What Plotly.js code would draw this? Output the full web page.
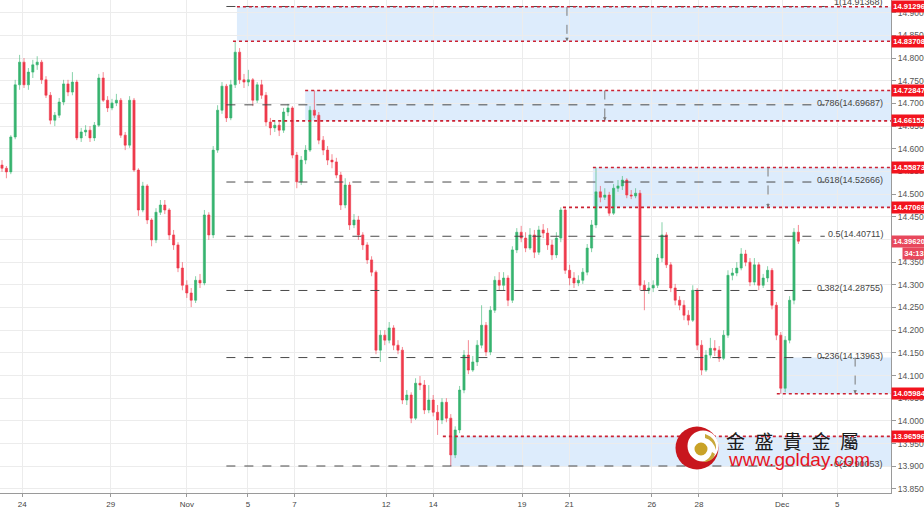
<!DOCTYPE html>
<html><head><meta charset="utf-8">
<script src="https://cdn.plot.ly/plotly-3.0.1.min.js"></script>
<style>html,body{margin:0;padding:0;background:#fff;overflow:hidden}#chart{width:924px;height:510px;}</style>
</head><body><div id="chart"></div>
<script>
// ---- candle data (4H bars) ----
const openP = [14.564,14.557,14.549,14.626,14.741,14.791,14.741,14.769,14.785,14.791,
14.752,14.718,14.663,14.674,14.703,14.743,14.725,14.747,14.624,14.637,
14.641,14.624,14.652,14.756,14.707,14.690,14.701,14.707,14.630,14.608,
14.707,14.553,14.465,14.518,14.443,14.399,14.460,14.476,14.465,14.410,
14.388,14.337,14.299,14.282,14.266,14.310,14.304,14.454,14.410,14.597,
14.685,14.738,14.668,14.741,14.813,14.752,14.747,14.752,14.707,14.741,
14.718,14.659,14.646,14.652,14.641,14.681,14.690,14.586,14.527,14.575,
14.597,14.685,14.674,14.619,14.597,14.575,14.571,14.542,14.476,14.520,
14.432,14.443,14.410,14.388,14.355,14.328,14.156,14.189,14.178,14.205,
14.167,14.156,14.046,14.057,14.006,14.083,14.079,14.024,14.046,14.019,
14.002,14.041,14.006,13.925,13.980,14.068,14.145,14.112,14.130,14.167,
14.211,14.152,14.244,14.310,14.299,14.315,14.266,14.377,14.416,14.403,
14.381,14.410,14.372,14.421,14.414,14.388,14.366,14.403,14.465,14.332,
14.315,14.304,14.310,14.328,14.381,14.432,14.505,14.493,14.498,14.458,
14.513,14.518,14.531,14.498,14.496,14.502,14.299,14.288,14.293,14.299,
14.359,14.410,14.344,14.293,14.266,14.255,14.233,14.222,14.288,14.167,
14.112,14.145,14.160,14.156,14.138,14.189,14.321,14.326,14.337,14.368,
14.350,14.306,14.344,14.299,14.315,14.332,14.255,14.189,14.072,14.178,
14.266,14.416];
const highP = [14.575,14.562,14.630,14.752,14.807,14.800,14.778,14.796,14.804,14.796,
14.760,14.725,14.681,14.712,14.752,14.752,14.769,14.752,14.646,14.652,
14.650,14.659,14.765,14.769,14.716,14.710,14.721,14.712,14.637,14.716,
14.712,14.557,14.527,14.522,14.447,14.469,14.487,14.487,14.469,14.421,
14.394,14.350,14.310,14.293,14.319,14.324,14.465,14.460,14.606,14.696,
14.747,14.743,14.752,14.8371,14.822,14.765,14.774,14.756,14.747,14.752,
14.725,14.668,14.663,14.659,14.690,14.699,14.694,14.593,14.584,14.608,
14.694,14.7285,14.681,14.628,14.606,14.588,14.580,14.549,14.535,14.527,
14.456,14.452,14.416,14.394,14.363,14.332,14.200,14.200,14.218,14.211,
14.178,14.163,14.068,14.063,14.094,14.099,14.090,14.079,14.057,14.035,
14.050,14.050,14.015,13.988,14.077,14.156,14.178,14.143,14.178,14.255,
14.218,14.253,14.319,14.328,14.328,14.321,14.385,14.425,14.430,14.416,
14.425,14.421,14.430,14.434,14.425,14.399,14.416,14.4707,14.469,14.344,
14.328,14.321,14.337,14.390,14.443,14.5587,14.518,14.513,14.505,14.522,
14.531,14.540,14.535,14.509,14.513,14.509,14.310,14.306,14.310,14.368,
14.438,14.416,14.350,14.302,14.275,14.266,14.244,14.299,14.293,14.178,
14.156,14.183,14.178,14.165,14.200,14.332,14.337,14.350,14.381,14.377,
14.359,14.359,14.350,14.324,14.341,14.337,14.262,14.196,14.187,14.275,
14.425,14.432];
const lowP = [14.549,14.535,14.544,14.621,14.730,14.734,14.730,14.756,14.774,14.743,
14.712,14.654,14.650,14.668,14.696,14.716,14.718,14.619,14.615,14.628,
14.615,14.617,14.648,14.703,14.681,14.685,14.694,14.624,14.597,14.602,
14.549,14.452,14.460,14.434,14.385,14.392,14.454,14.456,14.399,14.377,
14.328,14.288,14.271,14.251,14.260,14.293,14.299,14.399,14.403,14.591,
14.677,14.659,14.663,14.734,14.743,14.734,14.738,14.694,14.701,14.710,
14.650,14.630,14.637,14.628,14.635,14.672,14.579,14.513,14.520,14.566,
14.593,14.668,14.610,14.586,14.564,14.557,14.535,14.465,14.469,14.421,
14.425,14.399,14.377,14.346,14.319,14.147,14.130,14.167,14.171,14.156,
14.147,14.037,14.035,13.995,14.002,14.068,14.015,14.017,14.010,13.969,
13.993,13.997,13.9005,13.918,13.973,14.061,14.103,14.108,14.121,14.160,
14.143,14.145,14.238,14.288,14.288,14.253,14.260,14.370,14.394,14.372,
14.377,14.359,14.366,14.403,14.377,14.355,14.359,14.394,14.324,14.299,
14.293,14.297,14.302,14.321,14.372,14.425,14.482,14.487,14.452,14.454,
14.505,14.509,14.491,14.489,14.491,14.288,14.244,14.280,14.284,14.293,
14.350,14.337,14.284,14.255,14.244,14.222,14.211,14.218,14.156,14.101,
14.108,14.138,14.143,14.130,14.134,14.183,14.310,14.319,14.332,14.341,
14.297,14.299,14.288,14.293,14.306,14.246,14.178,14.0598,14.063,14.171,
14.257,14.390];
const closeP = [14.557,14.549,14.626,14.741,14.791,14.741,14.769,14.785,14.791,14.752,
14.718,14.663,14.674,14.703,14.743,14.725,14.747,14.624,14.637,14.641,
14.624,14.652,14.756,14.707,14.690,14.701,14.707,14.630,14.608,14.707,
14.553,14.465,14.518,14.443,14.399,14.460,14.476,14.465,14.410,14.388,
14.337,14.299,14.282,14.266,14.310,14.304,14.454,14.410,14.597,14.685,
14.738,14.668,14.741,14.813,14.752,14.747,14.752,14.707,14.741,14.718,
14.659,14.646,14.652,14.641,14.681,14.690,14.586,14.527,14.575,14.597,
14.685,14.674,14.619,14.597,14.575,14.571,14.542,14.476,14.520,14.432,
14.443,14.410,14.388,14.355,14.328,14.156,14.189,14.178,14.205,14.167,
14.156,14.046,14.057,14.006,14.083,14.079,14.024,14.046,14.019,14.002,
14.041,14.006,13.925,13.980,14.068,14.145,14.112,14.130,14.167,14.211,
14.152,14.244,14.310,14.299,14.315,14.266,14.377,14.416,14.403,14.381,
14.410,14.372,14.421,14.414,14.388,14.366,14.403,14.465,14.332,14.315,
14.304,14.310,14.328,14.381,14.432,14.505,14.493,14.498,14.458,14.513,
14.518,14.531,14.498,14.496,14.502,14.299,14.288,14.293,14.299,14.359,
14.410,14.344,14.293,14.266,14.255,14.233,14.222,14.288,14.167,14.112,
14.145,14.160,14.156,14.138,14.189,14.321,14.326,14.337,14.368,14.350,
14.306,14.344,14.299,14.315,14.332,14.255,14.189,14.072,14.178,14.266,
14.416,14.3962];

// ---- time axis labels (bar-index positions) ----
const tickPos  = [4.6, 24.7, 42.0, 55.9, 66.5, 87.3, 98.0, 118.2, 128.9, 147.7, 158.4, 177.3, 189.8];
const tickText = ['24','29','Nov','5','7','12','14','19','21','26','28','Dec','5'];

// ---- Fibonacci retracement ----
const fibRatios = ['1','0.786','0.618','0.5','0.382','0.236','0'];
const fibValues = [14.91368,14.69687,14.52666,14.40711,14.28755,14.13963,13.90053];
const fibStart = 51, fibEnd = 187;

// ---- price range zones ----
const zoneTop    = [14.91296,14.72847,14.55873,14.13963,13.96596];
const zoneBottom = [14.83708,14.66152,14.47069,14.05984,13.90053];
const zoneStart  = [53.4,68.9,134.3,176.8,101.8];
const arrowX      = [128.4,137.0,174.1,193.9];
const arrowTop    = [14.91296,14.72847,14.55873,14.13963];
const arrowBottom = [14.83708,14.66152,14.47069,14.05984];

// ---- red horizontal levels + axis tags ----
const redLevels = [14.91296,14.83708,14.72847,14.66152,14.55873,14.47069,14.05984,13.96596];
const redStart  = [53.4,52.5,68.9,61.4,134.3,127.5,176.1,100.2];
const lastPrice = 14.39620;
const countdown = '34:13';

const xIdx = closeP.map((_, i) => i);
const X_END = 210;

const trace = {
  type: 'candlestick', x: xIdx, open: openP, high: highP, low: lowP, close: closeP,
  increasing: {line: {color: '#36b36f', width: 0.6}, fillcolor: '#36b36f'},
  decreasing: {line: {color: '#ee3a4c', width: 0.6}, fillcolor: '#ee3a4c'},
  whiskerwidth: 0, hoverinfo: 'skip', showlegend: false
};

const shapes = [];
const annotations = [];
const tagFont = {family: 'Liberation Sans, Arial', size: 7.6, color: '#fff', weight: 'bold'};

zoneTop.forEach((t, k) => {
  shapes.push({type: 'rect', xref: 'x', yref: 'y', x0: zoneStart[k], x1: X_END, y0: zoneBottom[k], y1: t,
    fillcolor: 'rgba(150,196,245,0.32)', line: {width: 0}, layer: 'below'});
});
fibValues.forEach((v, k) => {
  shapes.push({type: 'line', xref: 'x', yref: 'y', x0: fibStart, x1: fibEnd, y0: v, y1: v,
    line: {color: '#4a4a4a', width: 1, dash: 'dash'}, layer: 'above'});
  annotations.push({xref: 'paper', yref: 'y', x: 885/891, y: v, xanchor: 'right', yanchor: 'middle',
    yshift: k === 0 ? 4 : 2, text: fibRatios[k] + '(' + v.toFixed(5) + ')', showarrow: false,
    font: {family: 'Liberation Sans, Arial', size: 9, color: '#444'}});
});
redLevels.forEach((v, k) => {
  shapes.push({type: 'line', xref: 'x', yref: 'y', x0: redStart[k], x1: X_END, y0: v, y1: v,
    line: {color: '#cc2233', width: 1.6, dash: 'dot'}, layer: 'above'});
});
arrowX.forEach((ax, k) => {
  shapes.push({type: 'line', xref: 'x', yref: 'y', x0: ax, x1: ax, y0: arrowTop[k], y1: arrowBottom[k],
    line: {color: '#7a7a7a', width: 1, dash: 'dash'}, layer: 'above'});
  annotations.push({xref: 'x', yref: 'y', x: ax, y: arrowBottom[k], ax: 0, ay: -5, text: '',
    showarrow: true, arrowhead: 2, arrowsize: 0.7, arrowwidth: 1, arrowcolor: '#7a7a7a'});
});

// axis price tags
redLevels.forEach(v => {
  annotations.push({xref: 'paper', yref: 'y', x: 1, y: v, xanchor: 'left', yanchor: 'middle', xshift: 0,
    text: v.toFixed(5), showarrow: false, bgcolor: '#f2141e', borderpad: 1.2, font: tagFont});
});
annotations.push({xref: 'paper', yref: 'y', x: 1, y: lastPrice, xanchor: 'left', yanchor: 'middle', xshift: 0,
  text: lastPrice.toFixed(5), showarrow: false, bgcolor: '#e8485c', borderpad: 1.2, font: tagFont});
annotations.push({xref: 'paper', yref: 'y', x: 1, y: lastPrice, xanchor: 'left', yanchor: 'middle', xshift: 11, yshift: -12,
  text: countdown, showarrow: false, bgcolor: '#e8485c', borderpad: 1.2, font: tagFont});

// ---- watermark logo ----
const LX = 697/891, LY = 1 - 448/493;
const circ = (dx, dy, r, col) => ({type: 'circle', xref: 'paper', yref: 'paper', xsizemode: 'pixel', ysizemode: 'pixel',
  xanchor: LX, yanchor: LY, x0: dx - r, x1: dx + r, y0: dy - r, y1: dy + r, fillcolor: col, line: {width: 0}, layer: 'above'});
shapes.push(circ(0, 0, 21.5, '#c8161d'));
shapes.push(circ(6, 2, 15.5, '#ffffff'));
shapes.push({type: 'path', xref: 'paper', yref: 'paper', xsizemode: 'pixel', ysizemode: 'pixel', xanchor: LX, yanchor: LY,
  path: 'M 8 14 Q 20 10 19 -2 Q 16 8 8 10 Z', fillcolor: '#c9a83a', line: {width: 0}, layer: 'above'});
shapes.push({type: 'path', xref: 'paper', yref: 'paper', xsizemode: 'pixel', ysizemode: 'pixel', xanchor: LX, yanchor: LY,
  path: 'M 18 -6 Q 16 -14 6 -14 Q 14 -10 15 -4 Z', fillcolor: '#c9a83a', line: {width: 0}, layer: 'above'});
shapes.push(circ(4, -1, 6.5, '#c9a227'));
annotations.push({xref: 'paper', yref: 'paper', x: 724/891, y: 1 - 440/493, xanchor: 'left', yanchor: 'middle',
  text: '金\u2002盛\u2002貴\u2002金\u2002屬', showarrow: false,
  font: {family: 'Noto Sans CJK TC', size: 19, color: '#1a1a1a'}});
annotations.push({xref: 'paper', yref: 'paper', x: 726/891, y: 1 - 459/493, xanchor: 'left', yanchor: 'middle',
  text: 'www.golday.com', showarrow: false,
  font: {family: 'Liberation Sans, Arial', size: 19, color: '#e8141e'}});

const layout = {
  width: 924, height: 510, margin: {l: 0, r: 33, t: 0, b: 17},
  paper_bgcolor: '#ffffff', plot_bgcolor: '#ffffff', showlegend: false, dragmode: false,
  xaxis: {range: [-0.4545, 202.05], tickvals: tickPos, ticktext: tickText, showgrid: true, gridcolor: '#ececec',
    zeroline: false, showline: true, linecolor: '#9a9a9a', linewidth: 1, ticks: 'outside', ticklen: 3, tickcolor: '#9a9a9a',
    tickfont: {family: 'Liberation Sans, Arial', size: 8, color: '#444'}, rangeslider: {visible: false}, fixedrange: true},
  yaxis: {side: 'right', range: [13.841, 14.928], dtick: 0.05, tick0: 13.85, tickformat: '.4f', showgrid: true,
    gridcolor: '#ececec', zeroline: false, showline: true, linecolor: '#9a9a9a', linewidth: 1, ticks: 'outside', ticklen: 4,
    tickcolor: '#9a9a9a', tickfont: {family: 'Liberation Sans, Arial', size: 8.5, color: '#555'}, fixedrange: true},
  shapes: shapes, annotations: annotations
};
Plotly.newPlot('chart', [trace], layout, {displayModeBar: false, staticPlot: true});
</script>
</body></html>
